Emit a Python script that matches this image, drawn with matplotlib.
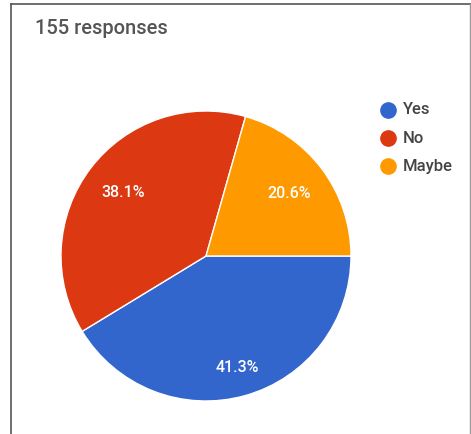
import matplotlib.pyplot as plt
from matplotlib.lines import Line2D

plt.rcParams['font.family'] = ['Roboto', 'DejaVu Sans']

# Data
labels = ['Yes', 'No', 'Maybe']
percents = [41.3, 38.1, 20.6]
colors = ['#3366cc', '#dc3912', '#ff9900']
title = '155 responses'

W, H = 471, 434
fig = plt.figure(figsize=(W / 100, H / 100), dpi=100)
fig.patch.set_facecolor('white')

# Border (left and top lines of the card)
fig.add_artist(Line2D([11 / W, 11 / W], [0, 1 - 4 / H], color='#555555', lw=1.2))
fig.add_artist(Line2D([11 / W, 1], [1 - 4 / H, 1 - 4 / H], color='#555555', lw=1.2))
fig.add_artist(Line2D([1 - 1 / W, 1 - 1 / W], [0, 1 - 4 / H], color='#999999', lw=1.0))

fig.text(35 / W, 1 - 28 / H, title, fontsize=14.5, color='#555555', va='center', ha='left',
         fontweight='medium')

# Pie axes
cx, cy, r = 206, 256, 145
ax = fig.add_axes([(cx - r) / W, (H - cy - r) / H, 2 * r / W, 2 * r / H])
wedges, texts, autotexts = ax.pie(
    percents, colors=colors, startangle=0, counterclock=False,
    autopct=lambda p: f'{p:.1f}%', pctdistance=0.72,
    wedgeprops=dict(edgecolor='white', linewidth=1.0),
    textprops=dict(color='white', fontsize=11.5, fontweight='medium'))
# the big slice label sits a bit further out
x0, y0 = autotexts[0].get_position()
autotexts[0].set_position((x0 * 0.80 / 0.72, y0 * 0.80 / 0.72))
ax.set_xlim(-1.0, 1.0)
ax.set_ylim(-1.0, 1.0)
ax.set_aspect('equal')
ax.axis('off')

# Legend
for i, (lab, col) in enumerate(zip(labels, colors)):
    y = 1 - (110 + i * 28) / H
    fig.add_artist(Line2D([388 / W], [y], marker='o', markersize=11, color=col, linestyle='none'))
    fig.text(403 / W, y, lab, fontsize=12, color='#444444', va='center', ha='left',
             fontweight='medium')

fig.savefig('out.png', dpi=100)
